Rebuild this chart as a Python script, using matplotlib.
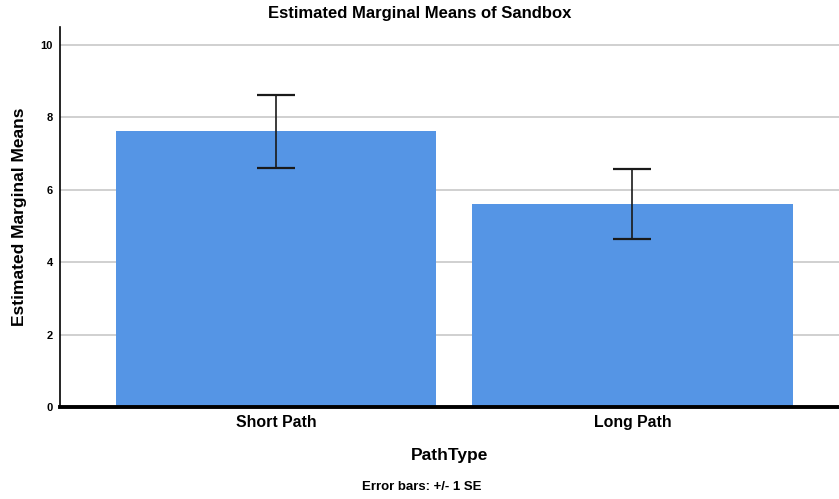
import matplotlib
matplotlib.use("Agg")
import matplotlib.pyplot as plt

categories = ["Short Path", "Long Path"]
means = [7.62, 5.61]
std_err = [1.01, 0.96]
y_ticks = [0, 2, 4, 6, 8, 10]

plt.rcParams["font.family"] = ["Liberation Sans", "DejaVu Sans"]

fig = plt.figure(figsize=(8.39, 4.99), dpi=100)
ax = fig.add_axes([0.0715, 0.1844, 0.9285, 0.7616])

# gridlines behind bars
ax.set_axisbelow(True)
ax.yaxis.grid(True, color="#c8c8c8", linewidth=1.2)

x = list(range(len(categories)))
ax.bar(x, means, width=0.9, color="#5595e5", zorder=2)
ax.errorbar(x, means, yerr=std_err, fmt="none", ecolor="#1a1a1a",
            elinewidth=1.2, capsize=14, capthick=1.6, zorder=3)

ax.set_xlim(-0.607, 1.58)
ax.set_ylim(0, 10.5)
ax.set_yticks(y_ticks)
ax.set_yticklabels([str(t) for t in y_ticks], fontsize=8, fontweight="bold")
ax.set_xticks(x)
ax.set_xticklabels(categories, fontsize=11.4, fontweight="bold")
ax.tick_params(axis="both", length=0)
ax.tick_params(axis="y", pad=5)
ax.tick_params(axis="x", pad=6)

for side in ["top", "right"]:
    ax.spines[side].set_visible(False)
ax.spines["left"].set_linewidth(1.2)
ax.spines["bottom"].set_linewidth(2.8)
ax.spines["bottom"].set_zorder(4)

ax.set_ylabel("Estimated Marginal Means", fontsize=12.5, fontweight="bold", labelpad=10)
ax.set_xlabel("PathType", fontsize=12.5, fontweight="bold", labelpad=13)

fig.text(0.5, 0.972, "Estimated Marginal Means of Sandbox", ha="center", va="center",
         fontsize=12, fontweight="bold")
fig.text(0.503, 0.024, "Error bars: +/- 1 SE", ha="center", va="center",
         fontsize=9.5, fontweight="bold")

fig.savefig("out.png", dpi=100)
